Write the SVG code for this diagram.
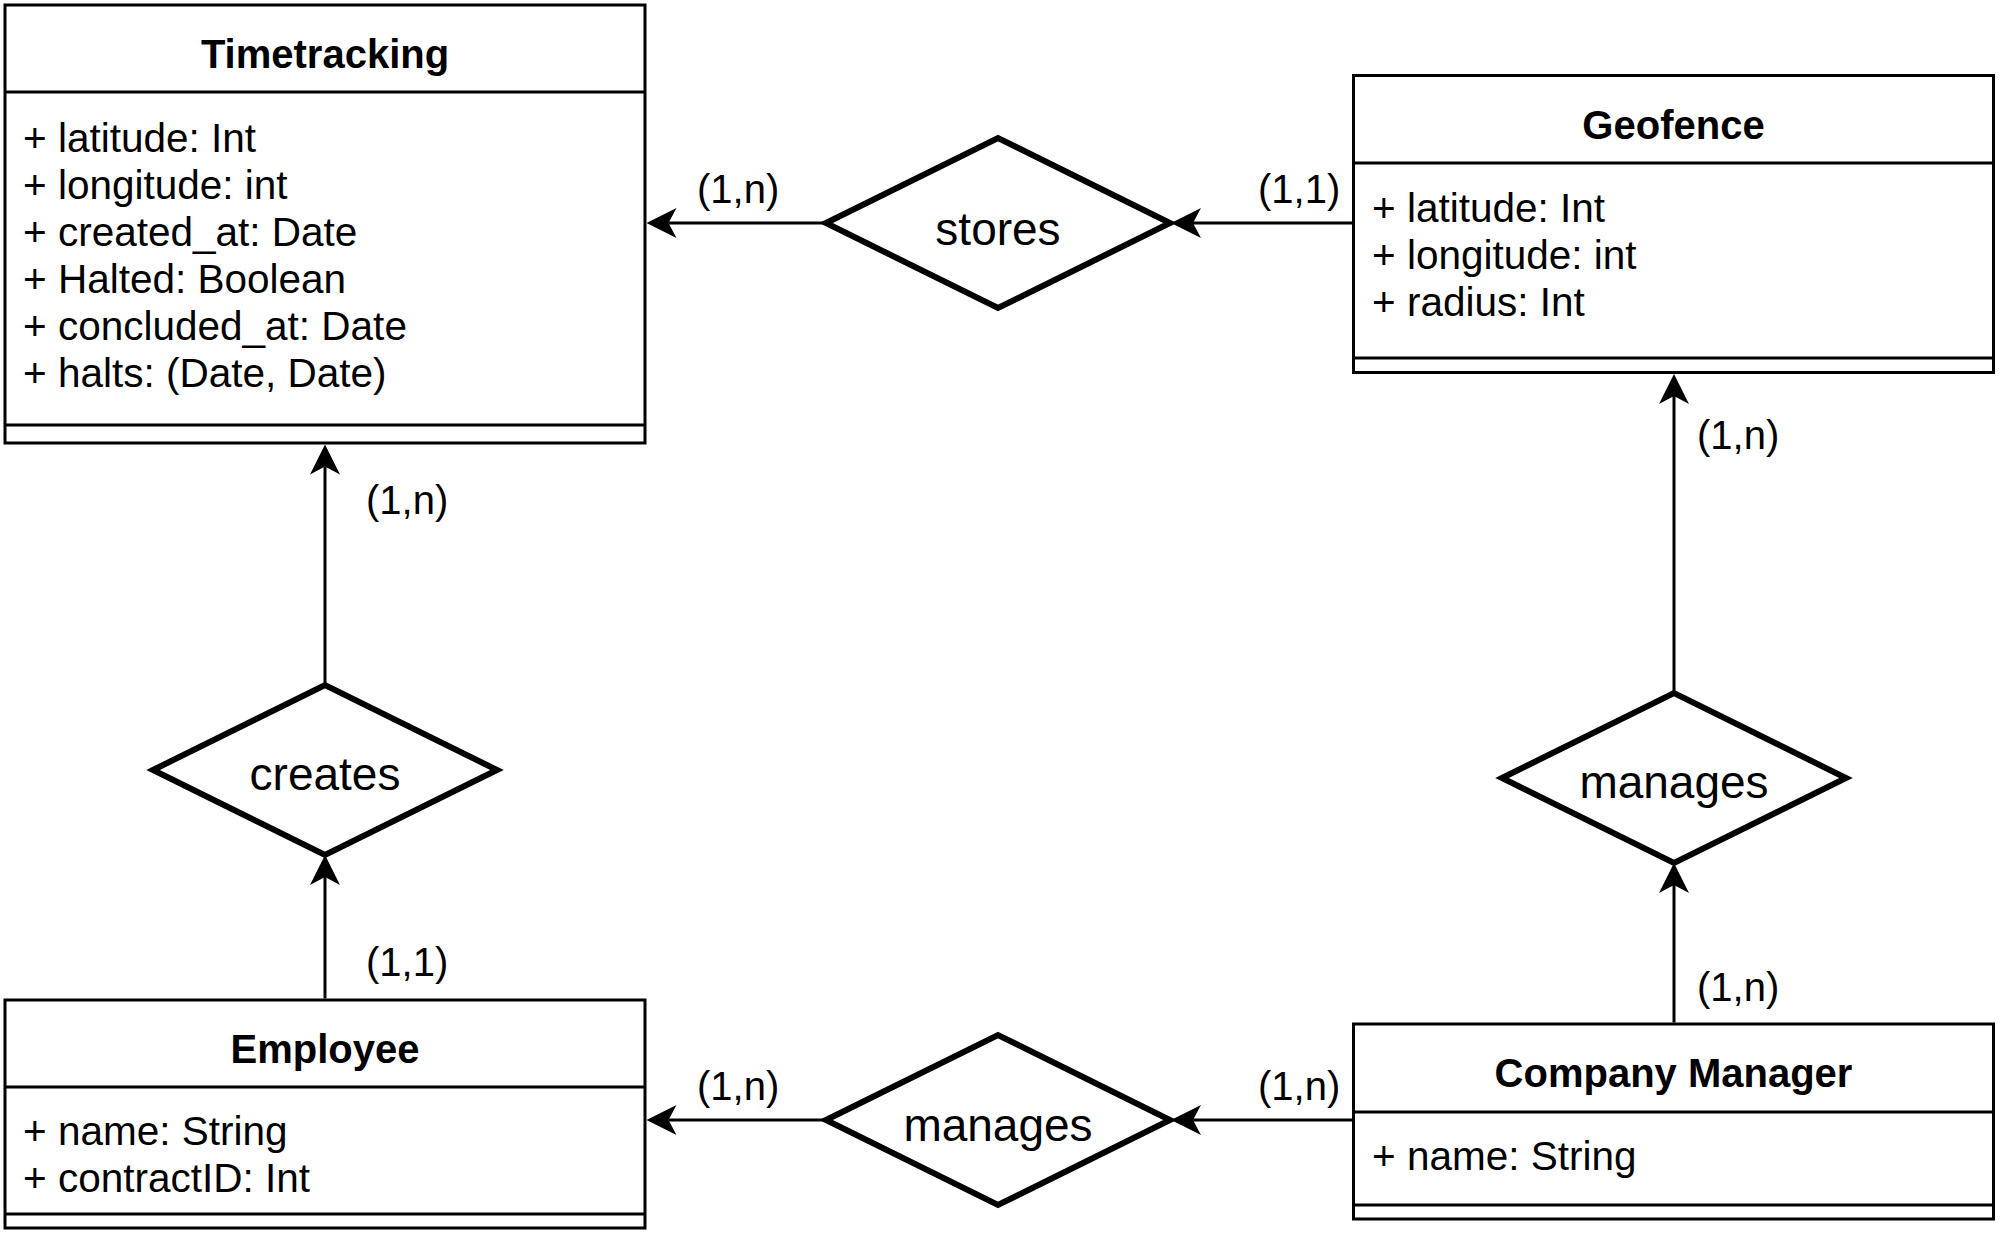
<svg xmlns="http://www.w3.org/2000/svg" width="2000" height="1234" viewBox="0 0 2000 1234">
<defs>
<style>
.box{fill:#fff;stroke:#000;stroke-width:3}
.sep{stroke:#000;stroke-width:3;fill:none}
.dia{fill:#fff;stroke:#000;stroke-width:6;stroke-linejoin:miter}
.title{font-family:"Liberation Sans",Arial,Helvetica,sans-serif;font-size:40px;font-weight:bold;text-anchor:middle;fill:#000}
.attr{font-family:"Liberation Sans",Arial,Helvetica,sans-serif;font-size:40.5px;fill:#000}
.rel{font-family:"Liberation Sans",Arial,Helvetica,sans-serif;font-size:46px;text-anchor:middle;fill:#000}
.card{font-family:"Liberation Sans",Arial,Helvetica,sans-serif;font-size:40px;fill:#000}
.conn{stroke:#000;stroke-width:3;fill:none}
</style>
<marker id="arrow" markerUnits="userSpaceOnUse" viewBox="0 0 30 30" markerWidth="30" markerHeight="30" refX="8" refY="15" orient="auto">
<path d="M30,15 L0,0 L8,15 L0,30 Z" fill="#000"/>
</marker>
</defs>
<rect width="2000" height="1234" fill="#fff"/>

<g id="connectors">
<line class="conn" x1="826" y1="223" x2="668.5" y2="223" marker-end="url(#arrow)"/>
<line class="conn" x1="1352" y1="223" x2="1193" y2="223" marker-end="url(#arrow)"/>
<line class="conn" x1="325" y1="685" x2="325" y2="466.5" marker-end="url(#arrow)"/>
<line class="conn" x1="325" y1="998.5" x2="325" y2="877" marker-end="url(#arrow)"/>
<line class="conn" x1="1674" y1="693" x2="1674" y2="396" marker-end="url(#arrow)"/>
<line class="conn" x1="1674" y1="1022.5" x2="1674" y2="885" marker-end="url(#arrow)"/>
<line class="conn" x1="826" y1="1120" x2="668.5" y2="1120" marker-end="url(#arrow)"/>
<line class="conn" x1="1352" y1="1120" x2="1193" y2="1120" marker-end="url(#arrow)"/>
<text class="card" x="697" y="203">(1,n)</text>
<text class="card" x="1258" y="203">(1,1)</text>
<text class="card" x="366" y="514">(1,n)</text>
<text class="card" x="366" y="976">(1,1)</text>
<text class="card" x="1697" y="449">(1,n)</text>
<text class="card" x="1697" y="1001">(1,n)</text>
<text class="card" x="697" y="1100">(1,n)</text>
<text class="card" x="1258" y="1100">(1,n)</text>
</g>

<g id="timetracking">
<rect class="box" x="5" y="5" width="640" height="438"/>
<line class="sep" x1="5" y1="92" x2="645" y2="92"/>
<line class="sep" x1="5" y1="425" x2="645" y2="425"/>
<text class="title" x="325" y="68">Timetracking</text>
<text class="attr" x="23" y="152">+ latitude: Int</text>
<text class="attr" x="23" y="199">+ longitude: int</text>
<text class="attr" x="23" y="246">+ created_at: Date</text>
<text class="attr" x="23" y="293">+ Halted: Boolean</text>
<text class="attr" x="23" y="340">+ concluded_at: Date</text>
<text class="attr" x="23" y="387">+ halts: (Date, Date)</text>
</g>

<g id="geofence">
<rect class="box" x="1353.5" y="75.5" width="640" height="297"/>
<line class="sep" x1="1353.5" y1="163" x2="1993.5" y2="163"/>
<line class="sep" x1="1353.5" y1="358" x2="1993.5" y2="358"/>
<text class="title" x="1673.5" y="138.5">Geofence</text>
<text class="attr" x="1372" y="222">+ latitude: Int</text>
<text class="attr" x="1372" y="269">+ longitude: int</text>
<text class="attr" x="1372" y="316">+ radius: Int</text>
</g>

<g id="employee">
<rect class="box" x="5" y="1000" width="640" height="228"/>
<line class="sep" x1="5" y1="1087" x2="645" y2="1087"/>
<line class="sep" x1="5" y1="1214" x2="645" y2="1214"/>
<text class="title" x="325" y="1063">Employee</text>
<text class="attr" x="23" y="1145">+ name: String</text>
<text class="attr" x="23" y="1192">+ contractID: Int</text>
</g>

<g id="company-manager">
<rect class="box" x="1353.5" y="1024" width="640" height="195"/>
<line class="sep" x1="1353.5" y1="1112" x2="1993.5" y2="1112"/>
<line class="sep" x1="1353.5" y1="1205" x2="1993.5" y2="1205"/>
<text class="title" x="1673.5" y="1087">Company Manager</text>
<text class="attr" x="1372" y="1170">+ name: String</text>
</g>

<g id="stores">
<polygon class="dia" points="826,223 998,138 1170,223 998,308"/>
<text class="rel" x="998" y="245">stores</text>
</g>

<g id="creates">
<polygon class="dia" points="153,770 325,685 497,770 325,855"/>
<text class="rel" x="325" y="790">creates</text>
</g>

<g id="manages-geofence">
<polygon class="dia" points="1502,778 1674,693 1846,778 1674,863"/>
<text class="rel" x="1674" y="798">manages</text>
</g>

<g id="manages-employee">
<polygon class="dia" points="826,1120 998,1035 1170,1120 998,1205"/>
<text class="rel" x="998" y="1141">manages</text>
</g>
</svg>
